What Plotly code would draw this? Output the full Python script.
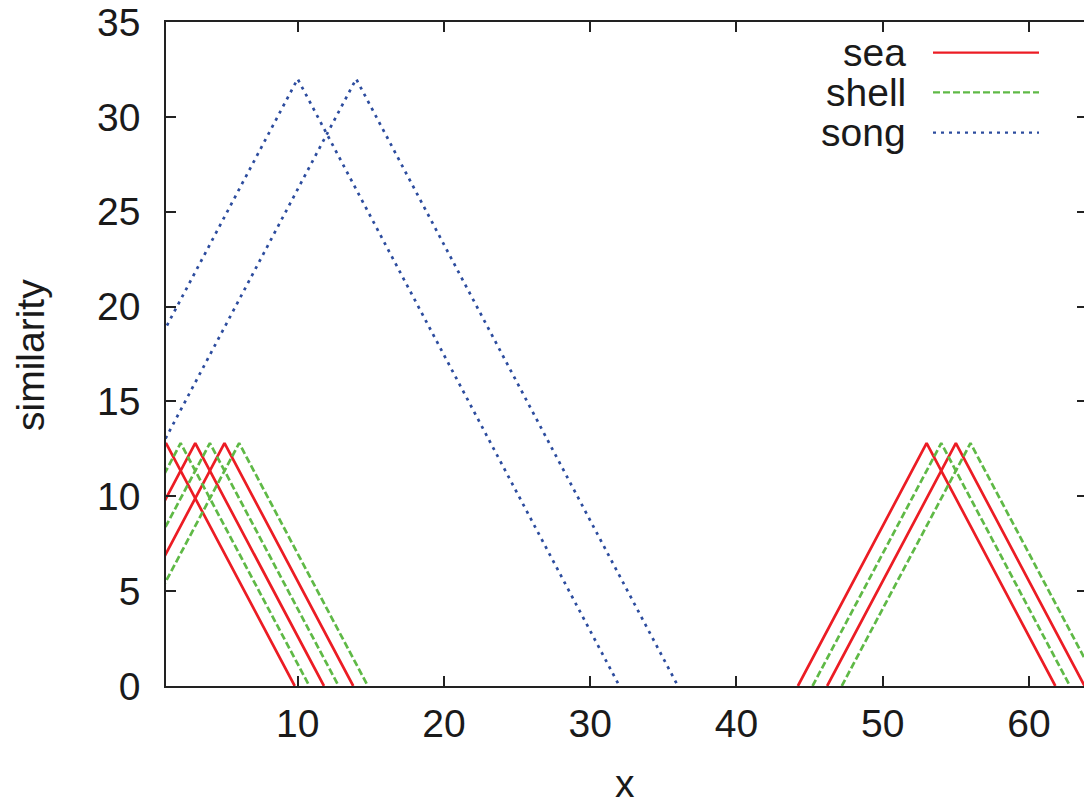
import plotly.graph_objects as go

# ---- data ----
sea_peak_x = [1, 3, 5, 53, 55]
sea_peak_y = [12.8, 12.8, 12.8, 12.8, 12.8]
sea_left_zero = [-7.8, -5.8, -3.8, 44.2, 46.2]
sea_right_zero = [9.8, 11.8, 13.8, 61.8, 63.8]

shell_peak_x = [2, 4, 6, 54, 56]
shell_peak_y = [12.8, 12.8, 12.8, 12.8, 12.8]
shell_left_zero = [-6.8, -4.8, -2.8, 45.2, 47.2]
shell_right_zero = [10.8, 12.8, 14.8, 62.8, 64.8]

song_peak_x = [10, 14]
song_peak_y = [32, 32]
song_left_zero = [-12, -8]
song_right_zero = [32, 36]

series_names = ["sea", "shell", "song"]
x_ticks = [10, 20, 30, 40, 50, 60]
y_ticks = [0, 5, 10, 15, 20, 25, 30, 35]

colors = {"sea": "#ec1c24", "shell": "#5fb946", "song": "#2c4c9e"}
dashes = {"sea": "solid", "shell": "7px,3px", "song": "3px,5px"}


def build(left, px, py, right):
    xs, ys = [], []
    for l, p, h, r in zip(left, px, py, right):
        xs += [l, p, r, None]
        ys += [0, h, 0, None]
    return xs, ys


data = {
    "sea": build(sea_left_zero, sea_peak_x, sea_peak_y, sea_right_zero),
    "shell": build(shell_left_zero, shell_peak_x, shell_peak_y, shell_right_zero),
    "song": build(song_left_zero, song_peak_x, song_peak_y, song_right_zero),
}

FONT = "Liberation Sans, Arial, Helvetica, sans-serif"
TXT = "#1a1a1a"
FS = 39

fig = go.Figure()
for name in series_names:
    xs, ys = data[name]
    fig.add_trace(go.Scatter(
        x=xs, y=ys, mode="lines", name=name, showlegend=False,
        line=dict(color=colors[name], width=2.7, dash=dashes[name]),
        connectgaps=False, hoverinfo="skip"))

# helper trace so the right-side tick axis is drawn
fig.add_trace(go.Scatter(x=[None], y=[None], yaxis="y2", mode="lines",
                         showlegend=False, hoverinfo="skip"))

W, H = 1084, 808
L, R, T, B = 166, 0, 22, 122
pw = W - L - R
ph = H - T - B

fig.update_layout(
    width=W, height=H,
    margin=dict(l=L, r=R, t=T, b=B, pad=0),
    paper_bgcolor="white", plot_bgcolor="white",
    font=dict(family=FONT, size=FS, color=TXT),
    showlegend=False,
    xaxis=dict(
        range=[1, 63.76], tickvals=x_ticks, ticktext=[str(v) for v in x_ticks],
        ticks="inside", ticklen=10, tickwidth=1.5, tickcolor="#222",
        showline=True, linecolor="#222", linewidth=1.6, mirror="ticks",
        showgrid=False, zeroline=False,
        tickfont=dict(family=FONT, size=FS, color=TXT),
        ticklabelstandoff=2,
    ),
    yaxis=dict(
        range=[0, 35], tickvals=y_ticks, ticktext=[str(v) for v in y_ticks],
        ticks="inside", ticklen=10, tickwidth=1.5, tickcolor="#222",
        showline=True, linecolor="#222", linewidth=1.6, mirror=False,
        showgrid=False, zeroline=False,
        tickfont=dict(family=FONT, size=FS, color=TXT),
        ticklabelstandoff=16,
    ),
    yaxis2=dict(
        range=[0, 35], tickvals=y_ticks, overlaying="y", side="right",
        ticks="inside", ticklen=7, tickwidth=1.5, tickcolor="#222",
        showline=False, showticklabels=False, showgrid=False, zeroline=False,
    ),
)

# axis titles
fig.add_annotation(text="x", xref="paper", yref="paper",
                   x=(625 - L) / pw, y=(T + ph - 807) / ph,
                   xanchor="center", yanchor="bottom", showarrow=False,
                   font=dict(family=FONT, size=FS, color=TXT))
fig.add_annotation(text="similarity", xref="paper", yref="paper",
                   x=(30 - L) / pw, y=(T + ph - 355) / ph, textangle=-90,
                   xanchor="center", yanchor="middle", showarrow=False,
                   font=dict(family=FONT, size=FS, color=TXT))

# legend (text on the left, sample line on the right, gnuplot style)
legend_rows = [52.7, 92.3, 132.7]
for name, ypx in zip(series_names, legend_rows):
    yp = (T + ph - ypx) / ph
    fig.add_annotation(text=name, xref="paper", yref="paper",
                       x=(908 - L) / pw, y=yp, xanchor="right", yanchor="middle",
                       showarrow=False,
                       font=dict(family=FONT, size=FS, color=TXT))
    fig.add_shape(type="line", xref="paper", yref="paper",
                  x0=(933 - L) / pw, x1=(1039 - L) / pw, y0=yp, y1=yp,
                  line=dict(color=colors[name], width=2.2, dash=dashes[name]))

fig.write_html("out.html")
